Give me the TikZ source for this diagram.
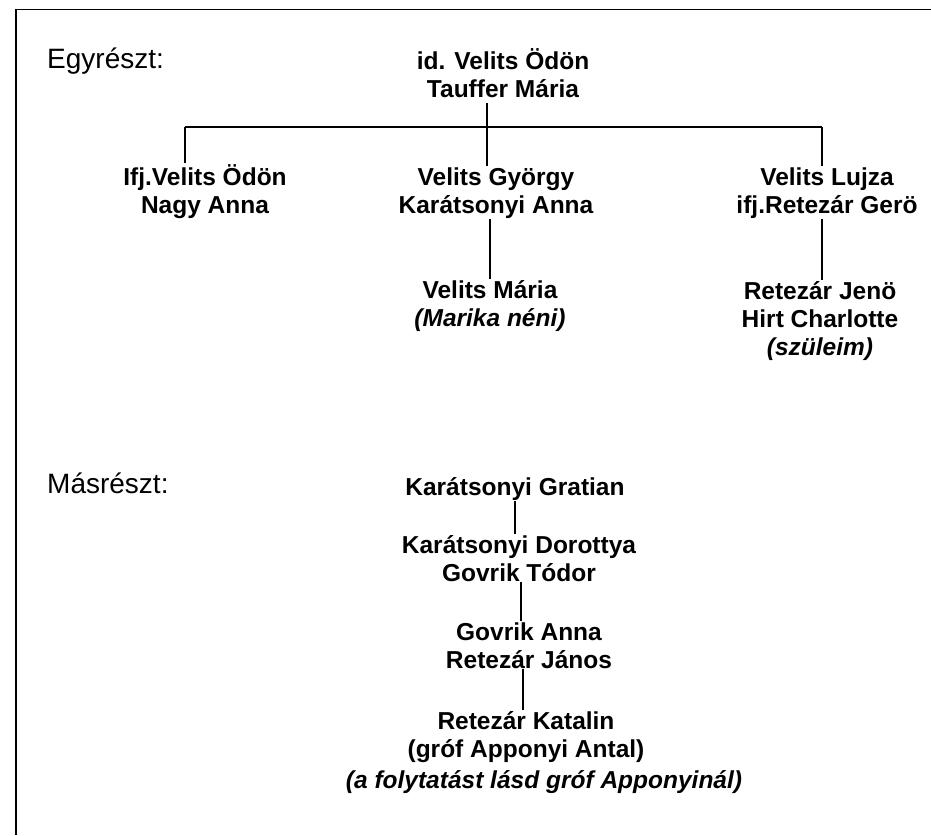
\documentclass[tikz,border=0pt]{standalone}
\usepackage{fontspec}
\setmainfont{Liberation Sans}
\usetikzlibrary{calc}

\begin{document}
\begin{tikzpicture}[x=1pt,y=-1pt,
    person/.style={font=\fontsize{24.5}{28}\selectfont\bfseries, align=center, anchor=base, inner sep=1pt},
    part/.style={font=\fontsize{28}{32}\selectfont, anchor=base west, inner sep=0pt},
    link/.style={line width=1.4pt},
    bar/.style={line width=2.6pt}]
\useasboundingbox (0,0) rectangle (931,835);
\draw[line width=1.6pt] (931,9.5) -- (16,9.5) -- (16,835);
% base of a person node = its last line
\begin{scope}
\node[part] (egy) at (47,68) {Egyrészt:};
\node[person] (0) at (503,97) {id. Velits Ödön\\Tauffer Mária};
\node[person] (1) at (205,213) {Ifj.Velits Ödön\\Nagy Anna};
\node[person] (2) at (496,213) {Velits György\\Karátsonyi Anna};
\node[person] (3) at (827,213) {Velits Lujza\\ifj.Retezár Gerö};
\node[person] (4) at (490,326) {Velits Mária\\\textit{(Marika néni)}};
\node[person] (5) at (820,355) {Retezár Jenö\\Hirt Charlotte\\\textit{(szüleim)}};
\coordinate (j) at (487,127);
\coordinate (jl) at (185,127);
\coordinate (jr) at (822,127);
\draw[link, shorten <=5pt] (j |- 0.south) -- (j);
\draw[bar] (jl) -- (jr);
\draw[link] (jl) -- (jl |- 1.north);
\draw[link] (j) -- (j |- 2.north);
\draw[link] (jr) -- (jr |- 3.north);
\draw[link] (2.south -| 4) -- (4.north);
\draw[link] (jr |- 3.south) -- (jr |- 5.north);
\end{scope}
\begin{scope}
\node[part] (mas) at (47,493) {Másrészt:};
\node[person] (6) at (515,495) {Karátsonyi Gratian};
\node[person] (7) at (519,581) {Karátsonyi Dorottya\\Govrik Tódor};
\node[person] (8) at (529,668) {Govrik Anna\\Retezár János};
\node[person] (9) at (526,757) {Retezár Katalin\\(gróf Apponyi Antal)};
\node[person] (note) at (544,788) {\textit{(a folytatást lásd gróf Apponyinál)}};
\draw[link] (6.south) -- (6.south |- 7.north);
\draw[link] ($(7.south)+(2,0)$) -- ($(7.south |- 8.north)+(2,0)$);
\draw[link] ($(8.south -| 9)+(-3,0)$) -- ($(9.north)+(-3,0)$);
\end{scope}
\end{tikzpicture}
\end{document}
